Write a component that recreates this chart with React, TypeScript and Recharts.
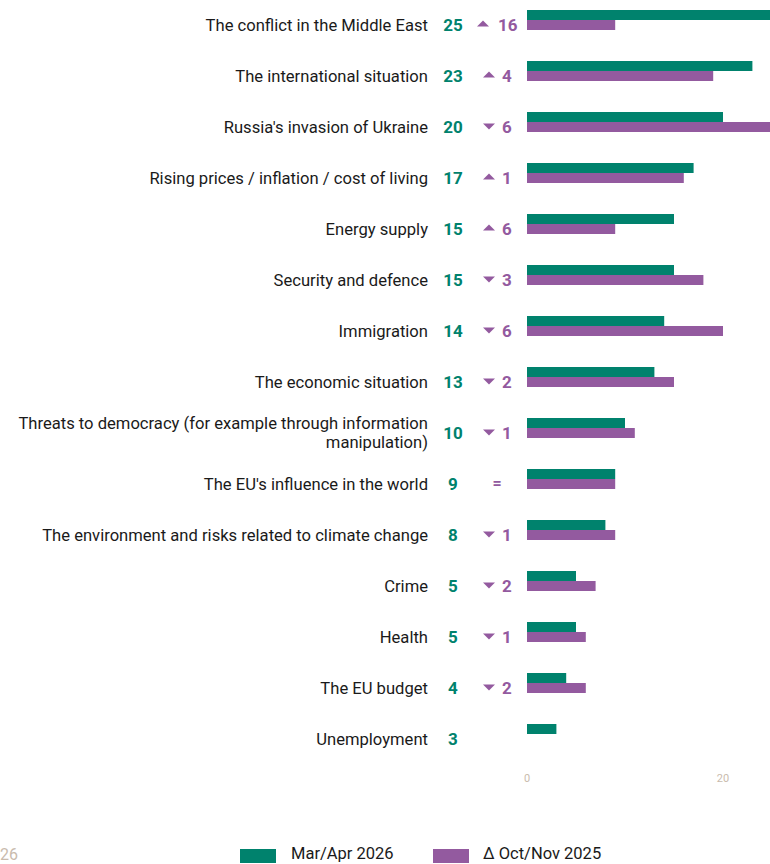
import React from "react";
import { BarChart, Bar, XAxis, YAxis } from "recharts";

const categories = [
  "The conflict in the Middle East",
  "The international situation",
  "Russia's invasion of Ukraine",
  "Rising prices / inflation / cost of living",
  "Energy supply",
  "Security and defence",
  "Immigration",
  "The economic situation",
  "Threats to democracy (for example through information manipulation)",
  "The EU's influence in the world",
  "The environment and risks related to climate change",
  "Crime",
  "Health",
  "The EU budget",
  "Unemployment",
];

const current = [25, 23, 20, 17, 15, 15, 14, 13, 10, 9, 8, 5, 5, 4, 3];
const previous = [9, 19, 26, 16, 9, 18, 20, 15, 11, 9, 9, 7, 6, 6, null];
const delta = [16, 4, -6, 1, 6, -3, -6, -2, -1, 0, -1, -2, -1, -2, null];

const xTicks = [0, 20];

const GREEN = "#00826D";
const PURPLE = "#935A9F";
const FONT = "Roboto, sans-serif";

const data = categories.map((name, i) => ({
  name,
  current: current[i],
  previous: previous[i],
}));

const wrap = (text: string, max = 55) => {
  const words = text.split(" ");
  const lines: string[] = [];
  let line = "";
  words.forEach((w) => {
    if ((line + " " + w).trim().length > max) {
      lines.push(line);
      line = w;
    } else {
      line = (line + " " + w).trim();
    }
  });
  lines.push(line);
  return lines;
};

const CategoryTick = (props: any) => {
  const { y, payload, index } = props;
  const lines = wrap(payload.value);
  const d = delta[index];
  const lh = 19;
  const cy = y + 5;
  const startY = cy - ((lines.length - 1) * lh) / 2;
  return (
    <g>
      <text
        x={428}
        y={startY}
        textAnchor="end"
        dominantBaseline="central"
        fontFamily={FONT}
        fontSize={16.6}
        fill="#1a1a1a"
      >
        {lines.map((l, k) => (
          <tspan key={k} x={428} y={startY + k * lh}>
            {l}
          </tspan>
        ))}
      </text>
      <text
        x={453}
        y={cy}
        textAnchor="middle"
        dominantBaseline="central"
        fontFamily={FONT}
        fontWeight="bold"
        fontSize={17}
        fill={GREEN}
      >
        {current[index]}
      </text>
      {d === 0 && (
        <text
          x={497}
          y={cy}
          textAnchor="middle"
          dominantBaseline="central"
          fontFamily={FONT}
          fontWeight="bold"
          fontSize={16}
          fill={PURPLE}
        >
          =
        </text>
      )}
      {d !== null && d !== 0 && (
        <g>
          <path
            d={
              d > 0
                ? `M${497 - (Math.abs(d) > 9 ? 20 : 14)} ${cy + 2} l6 -6 l6 6 z`
                : `M${497 - 14} ${cy - 3} l12 0 l-6 6 z`
            }
            fill={PURPLE}
          />
          <text
            x={d > 0 && Math.abs(d) > 9 ? 498 : 502}
            y={cy}
            textAnchor="start"
            dominantBaseline="central"
            fontFamily={FONT}
            fontWeight="bold"
            fontSize={17}
            fill={PURPLE}
          >
            {Math.abs(d)}
          </text>
        </g>
      )}
    </g>
  );
};

export default function App() {
  return (
    <div
      style={{
        position: "fixed",
        left: 0,
        top: 0,
        width: 770,
        height: 864,
        overflow: "hidden",
        background: "#fff",
      }}
    >
      <div style={{ position: "absolute", left: 0, top: -6.5 }}>
        <BarChart
          width={919}
          height={795}
          data={data}
          layout="vertical"
          margin={{ top: 0, right: 0, bottom: 0, left: 0 }}
          barGap={0}
          barCategoryGap={0}
        >
          <XAxis
            type="number"
            domain={[0, 40]}
            ticks={xTicks}
            axisLine={false}
            tickLine={false}
            tickMargin={9}
            tick={{ fill: "#C9BBAD", fontSize: 11, fontFamily: FONT }}
            height={30}
          />
          <YAxis
            type="category"
            dataKey="name"
            width={527}
            axisLine={false}
            tickLine={false}
            interval={0}
            tick={<CategoryTick />}
          />
          <Bar dataKey="current" fill={GREEN} barSize={10} isAnimationActive={false} />
          <Bar dataKey="previous" fill={PURPLE} barSize={10} isAnimationActive={false} />
        </BarChart>
      </div>
      <div
        style={{
          position: "absolute",
          left: 240,
          top: 844,
          display: "flex",
          alignItems: "center",
          fontFamily: FONT,
          fontSize: 16.5,
          color: "#1a1a1a",
          lineHeight: "20px",
        }}
      >
        <span style={{ width: 36, height: 14, background: GREEN, display: "inline-block", marginTop: 4 }} />
        <span style={{ marginLeft: 15, width: 142 }}>Mar/Apr 2026</span>
        <span style={{ width: 36, height: 14, background: PURPLE, display: "inline-block", marginTop: 4 }} />
        <span style={{ marginLeft: 14 }}>Δ Oct/Nov 2025</span>
      </div>
      <div
        style={{
          position: "absolute",
          left: 0,
          top: 845,
          fontFamily: FONT,
          fontSize: 16,
          color: "#C9BBAD",
        }}
      >
        26
      </div>
    </div>
  );
}
